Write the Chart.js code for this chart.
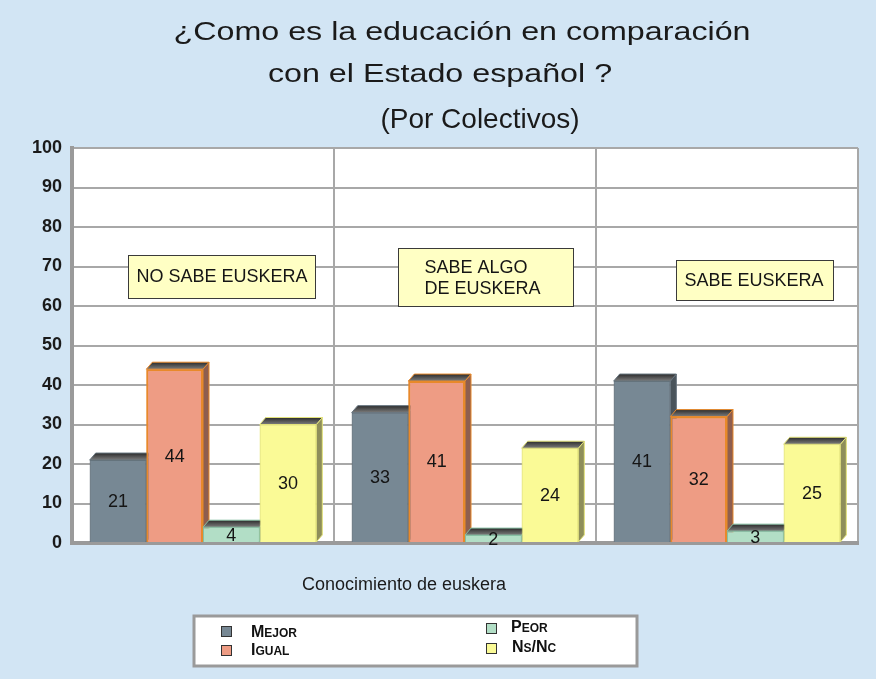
<!DOCTYPE html>
<html>
<head>
<meta charset="utf-8">
<script src="https://cdn.jsdelivr.net/npm/chart.js@4/dist/chart.umd.min.js"></script>
<style>
  html, body { margin: 0; padding: 0; background: #D2E5F4; }
  canvas { display: block; }
</style>
</head>
<body>
<canvas id="chart" width="876" height="679"></canvas>
<script>
// values
const categories = ["NO SABE EUSKERA", "SABE ALGO\nDE EUSKERA", "SABE EUSKERA"];
const seriesNames = ["Mejor", "Igual", "Peor", "Ns/Nc"];
const mejor = [21, 33, 41];
const igual = [44, 41, 32];
const peor = [4, 2, 3];
const nsnc = [30, 24, 25];
const yMin = 0, yMax = 100, yStep = 10;

const titleLines = ["¿Como es la educación en comparación", "con el Estado español ?", "(Por Colectivos)"];
const xTitle = "Conocimiento de euskera";

const FONT = '"Liberation Sans", Arial, Helvetica, sans-serif';
const BG = '#D2E5F4';

// colours: fill, border, side of the 3d block
const fills = ['#778894', '#EE9C84', '#B2DEC6', '#FAFA96'];
const borders = ['#65737d', '#E8892B', '#86bfa3', '#e2e27a'];
const sides = ['#4a545b', '#8e5e4f', '#6f8a7c', '#8e8e5a'];

// annotation boxes: offset from category centre (fraction of category width), y value, box size
const notes = [
  { dx: 0.071, y: 67.5, w: 187, h: 43, pad: 8 },
  { dx: 0.078, y: 67.3, w: 175, h: 58, pad: 26 },
  { dx: 0.105, y: 66.6, w: 157, h: 40, pad: 8 }
];

const DX = 6, DY = 7;

const backdrop = {
  id: 'backdrop',
  beforeDraw(chart) {
    const { ctx, chartArea: a } = chart;
    ctx.save();
    ctx.fillStyle = BG;
    ctx.fillRect(0, 0, chart.width, chart.height);
    ctx.fillStyle = '#ffffff';
    ctx.fillRect(a.left, a.top, a.right - a.left, a.bottom - a.top);
    ctx.restore();
  }
};

function block(ctx, bar, i) {
  const l = bar.x - bar.width / 2, r = bar.x + bar.width / 2;
  const t = bar.y, b = bar.base;
  // side
  ctx.beginPath();
  ctx.moveTo(r, t);
  ctx.lineTo(r + DX, t - DY);
  ctx.lineTo(r + DX, b - DY);
  ctx.lineTo(r, b);
  ctx.closePath();
  ctx.fillStyle = sides[i];
  ctx.fill();
  ctx.strokeStyle = borders[i];
  ctx.lineWidth = 1;
  ctx.stroke();
  // top
  const g = ctx.createLinearGradient(0, t - DY, 0, t);
  g.addColorStop(0, '#2b2b2b');
  g.addColorStop(1, '#7d7d7d');
  ctx.beginPath();
  ctx.moveTo(l, t);
  ctx.lineTo(l + DX, t - DY);
  ctx.lineTo(r + DX, t - DY);
  ctx.lineTo(r, t);
  ctx.closePath();
  ctx.fillStyle = g;
  ctx.fill();
  ctx.strokeStyle = borders[i];
  ctx.stroke();
}

function smallCaps(ctx, text, x, y, big, small) {
  for (const ch of text) {
    const low = ch !== ch.toUpperCase();
    ctx.font = 'bold ' + (low ? small : big) + 'px ' + FONT;
    const c = ch.toUpperCase();
    ctx.fillText(c, x, y);
    x += ctx.measureText(c).width;
  }
}

const overlay = {
  id: 'overlay',
  afterDatasetsDraw(chart) {
    const ctx = chart.ctx;
    ctx.save();
    // redraw left to right so each front hides the previous block's side
    chart.data.datasets.forEach((ds, di) => {
      chart.getDatasetMeta(di).data.forEach(bar => {
        bar.draw(ctx);
        block(ctx, bar, di);
      });
    });
    // values inside bars
    ctx.fillStyle = '#151515';
    ctx.font = '18px ' + FONT;
    ctx.textAlign = 'center';
    ctx.textBaseline = 'middle';
    chart.data.datasets.forEach((ds, di) => {
      chart.getDatasetMeta(di).data.forEach((bar, k) => {
        ctx.fillText(String(ds.data[k]), bar.x, (bar.y + bar.base) / 2 + 1);
      });
    });
    // category boxes
    const xs = chart.scales.x, ys = chart.scales.y;
    const cw = (chart.chartArea.right - chart.chartArea.left) / categories.length;
    ctx.textAlign = 'left';
    categories.forEach((cat, k) => {
      const n = notes[k];
      const cx = xs.getPixelForValue(k) + n.dx * cw;
      const cy = ys.getPixelForValue(n.y);
      const x0 = Math.round(cx - n.w / 2) + 0.5, y0 = Math.round(cy - n.h / 2) + 0.5;
      ctx.fillStyle = '#FFFFC4';
      ctx.fillRect(x0, y0, n.w, n.h);
      ctx.strokeStyle = '#3a3a3a';
      ctx.lineWidth = 1;
      ctx.strokeRect(x0, y0, n.w, n.h);
      ctx.fillStyle = '#151515';
      ctx.font = '18px ' + FONT;
      const lines = cat.split('\n');
      const lh = 21;
      lines.forEach((ln, j) => {
        ctx.fillText(ln, x0 + n.pad, cy + (j - (lines.length - 1) / 2) * lh + 1);
      });
    });
    ctx.restore();
  },
  afterDraw(chart) {
    const ctx = chart.ctx;
    ctx.save();
    ctx.fillStyle = '#1a1a1a';
    ctx.textAlign = 'center';
    ctx.textBaseline = 'alphabetic';
    // title, slightly stretched like the original
    ctx.font = '26px ' + FONT;
    [[titleLines[0], 462, 40], [titleLines[1], 440, 82]].forEach(([s, x, y]) => {
      ctx.save();
      ctx.translate(x, y);
      ctx.scale(1.24, 1);
      ctx.fillText(s, 0, 0);
      ctx.restore();
    });
    ctx.font = '28px ' + FONT;
    ctx.fillText(titleLines[2], 480, 128);
    // axis title
    ctx.font = '18px ' + FONT;
    ctx.fillText(xTitle, 404, 590);

    // legend box
    ctx.fillStyle = '#ffffff';
    ctx.fillRect(194, 616, 443, 50);
    ctx.strokeStyle = '#9a9a9a';
    ctx.lineWidth = 3;
    ctx.strokeRect(194, 616, 443, 50);
    const spots = [[221, 626, 251, 637], [221, 645, 251, 655], [486, 623, 511, 632], [486, 643, 512, 652]];
    ctx.textAlign = 'left';
    seriesNames.forEach((name, i) => {
      const [sx, sy, tx, ty] = spots[i];
      ctx.fillStyle = fills[i];
      ctx.fillRect(sx, sy, 10, 10);
      ctx.strokeStyle = '#333';
      ctx.lineWidth = 1;
      ctx.strokeRect(sx + 0.5, sy + 0.5, 10, 10);
      ctx.fillStyle = '#111';
      smallCaps(ctx, name, tx, ty, 16, 12);
    });
    ctx.restore();
  }
};

new Chart(document.getElementById('chart'), {
  type: 'bar',
  data: {
    labels: categories,
    datasets: [
      { label: seriesNames[0], data: mejor, backgroundColor: fills[0], borderColor: borders[0], borderWidth: 1 },
      { label: seriesNames[1], data: igual, backgroundColor: fills[1], borderColor: borders[1], borderWidth: 2 },
      { label: seriesNames[2], data: peor, backgroundColor: fills[2], borderColor: borders[2], borderWidth: 1 },
      { label: seriesNames[3], data: nsnc, backgroundColor: fills[3], borderColor: borders[3], borderWidth: 1 }
    ]
  },
  options: {
    responsive: false,
    animation: false,
    layout: { padding: { top: 148, right: 18, bottom: 136, left: 0 } },
    datasets: { bar: { categoryPercentage: 0.865, barPercentage: 1 } },
    plugins: {
      legend: { display: false },
      title: { display: false },
      tooltip: { enabled: false }
    },
    scales: {
      x: {
        ticks: { display: false },
        grid: { offset: true, color: '#a8a8a8', lineWidth: 2, drawTicks: false },
        border: { color: '#9a9a9a', width: 4 },
        afterFit(s) { s.height = 0; }
      },
      y: {
        min: yMin,
        max: yMax,
        ticks: { stepSize: yStep, padding: 10, color: '#1a1a1a', font: { family: FONT, size: 18, weight: 'bold' } },
        grid: { color: '#a8a8a8', lineWidth: 2, drawTicks: false },
        border: { color: '#9a9a9a', width: 4 },
        afterFit(s) { s.width = 72; }
      }
    }
  },
  plugins: [backdrop, overlay]
});
</script>
</body>
</html>
